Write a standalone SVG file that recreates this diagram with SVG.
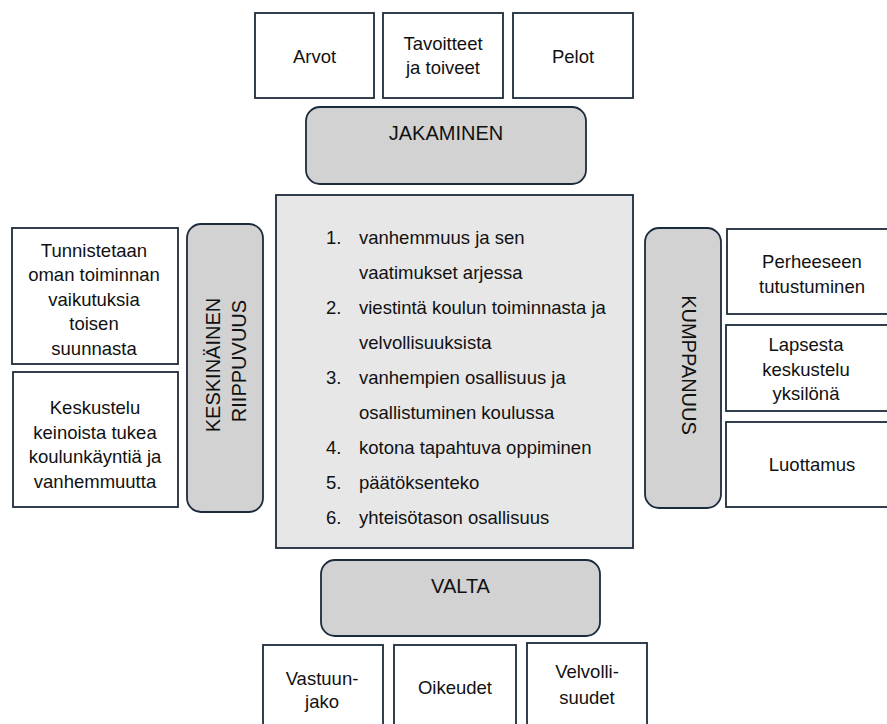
<svg xmlns="http://www.w3.org/2000/svg" width="887" height="724" viewBox="0 0 887 724">
<style>
.box{fill:#ffffff;stroke:#1b2b3c;stroke-width:1.8}
.cat{fill:#d2d2d2;stroke:#1b2b3c;stroke-width:1.8}
.core{fill:#e7e7e7;stroke:#1b2b3c;stroke-width:1.8}
text{font-family:"Liberation Sans",Arial,sans-serif;fill:#111111}
.t{font-size:18.5px;text-anchor:middle}
.c{font-size:20px;text-anchor:middle}
.l{font-size:18.5px}
</style>
<rect x="0" y="0" width="887" height="724" fill="#ffffff"/>
<g id="connectors"></g>

<g id="arvot"><rect class="box" x="255" y="13" width="119" height="85"/><text class="t" x="314.5" y="63">Arvot</text></g>
<g id="tavoitteet"><rect class="box" x="383" y="13" width="120" height="85"/><text class="t" x="443" y="50">Tavoitteet</text><text class="t" x="443" y="74">ja toiveet</text></g>
<g id="pelot"><rect class="box" x="513" y="13" width="120" height="85"/><text class="t" x="573" y="63">Pelot</text></g>

<g id="jakaminen"><rect class="cat" x="306" y="107" width="280" height="77" rx="14"/><text class="c" x="446" y="140">JAKAMINEN</text></g>

<g id="keskeiset"><rect class="core" x="276" y="195" width="357" height="353"/>
<text class="l" x="326" y="243.5">1.</text><text class="l" x="359" y="243.5">vanhemmuus ja sen</text>
<text class="l" x="359" y="278.6">vaatimukset arjessa</text>
<text class="l" x="326" y="313.7">2.</text><text class="l" x="359" y="313.7">viestintä koulun toiminnasta ja</text>
<text class="l" x="359" y="348.8">velvollisuuksista</text>
<text class="l" x="326" y="383.9">3.</text><text class="l" x="359" y="383.9">vanhempien osallisuus ja</text>
<text class="l" x="359" y="419">osallistuminen koulussa</text>
<text class="l" x="326" y="454.1">4.</text><text class="l" x="359" y="454.1">kotona tapahtuva oppiminen</text>
<text class="l" x="326" y="489.2">5.</text><text class="l" x="359" y="489.2">päätöksenteko</text>
<text class="l" x="326" y="524.3">6.</text><text class="l" x="359" y="524.3">yhteisötason osallisuus</text>
</g>

<g id="tunnistetaan"><rect class="box" x="12" y="228" width="166" height="136"/>
<text class="t" x="94" y="256.5">Tunnistetaan</text>
<text class="t" x="94" y="281">oman toiminnan</text>
<text class="t" x="94" y="305.5">vaikutuksia</text>
<text class="t" x="94" y="330">toisen</text>
<text class="t" x="94" y="354.5">suunnasta</text>
</g>
<g id="keskustelu"><rect class="box" x="13" y="372" width="165" height="135"/>
<text class="t" x="95" y="414">Keskustelu</text>
<text class="t" x="95" y="438.5">keinoista tukea</text>
<text class="t" x="95" y="463">koulunkäyntiä ja</text>
<text class="t" x="95" y="487.5">vanhemmuutta</text>
</g>
<g id="keskinainen"><rect class="cat" x="187" y="224" width="76" height="288" rx="14"/>
<text class="c" transform="translate(220,365) rotate(-90)">KESKINÄINEN</text>
<text class="c" transform="translate(246,361) rotate(-90)">RIIPPUVUUS</text>
</g>

<g id="kumppanuus"><rect class="cat" x="645" y="228" width="76" height="280" rx="14"/>
<text class="c" transform="translate(682,365) rotate(90)">KUMPPANUUS</text>
</g>
<g id="perheeseen"><rect class="box" x="727" y="229" width="175" height="85"/>
<text class="t" x="812" y="268">Perheeseen</text>
<text class="t" x="812" y="293">tutustuminen</text>
</g>
<g id="lapsesta"><rect class="box" x="726" y="325" width="175" height="86"/>
<text class="t" x="806" y="351">Lapsesta</text>
<text class="t" x="806" y="375.5">keskustelu</text>
<text class="t" x="806" y="400">yksilönä</text>
</g>
<g id="luottamus"><rect class="box" x="726" y="422" width="175" height="85"/>
<text class="t" x="812" y="471">Luottamus</text>
</g>

<g id="valta"><rect class="cat" x="321" y="560" width="279" height="76" rx="14"/><text class="c" x="460.5" y="593">VALTA</text></g>

<g id="vastuunjako"><rect class="box" x="263" y="645" width="120" height="95"/><text class="t" x="322" y="685">Vastuun-</text><text class="t" x="322" y="708">jako</text></g>
<g id="oikeudet"><rect class="box" x="394" y="645" width="122" height="95"/><text class="t" x="455" y="694">Oikeudet</text></g>
<g id="velvollisuudet"><rect class="box" x="527" y="643" width="120" height="97"/><text class="t" x="587" y="678">Velvolli-</text><text class="t" x="587" y="704">suudet</text></g>
</svg>
